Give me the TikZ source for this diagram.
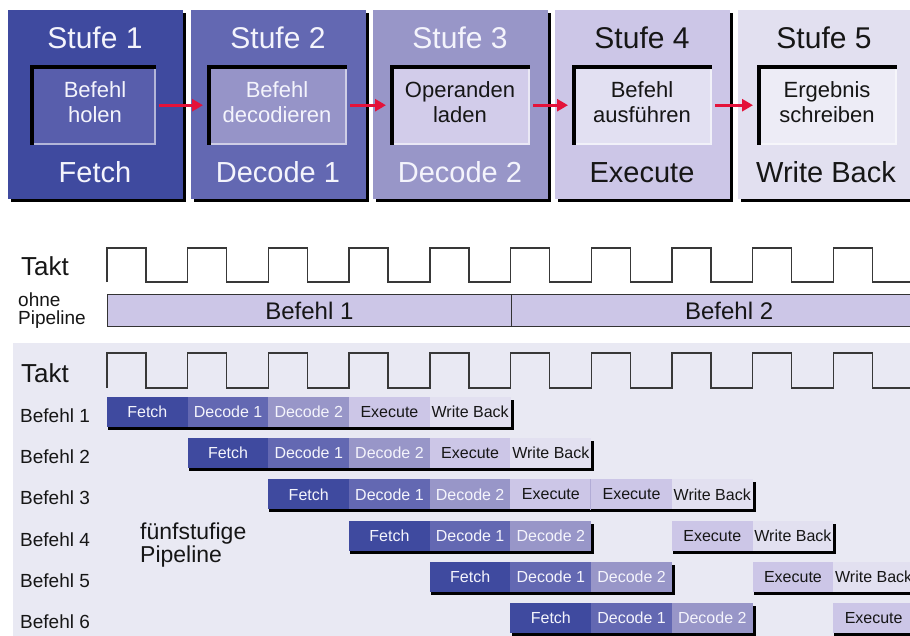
\documentclass[tikz,border=0pt]{standalone}
\usepackage{fontspec}
\setmainfont{Liberation Sans}
\usetikzlibrary{arrows.meta,calc,shadows}

\definecolor{cA}{RGB}{63,74,159}
\definecolor{cAi}{RGB}{88,94,172}
\definecolor{cB}{RGB}{99,104,178}
\definecolor{cBi}{RGB}{150,148,200}
\definecolor{cC}{RGB}{152,150,200}
\definecolor{cCi}{RGB}{210,204,234}
\definecolor{cD}{RGB}{204,198,231}
\definecolor{cDi}{RGB}{226,224,242}
\definecolor{cE}{RGB}{226,224,240}
\definecolor{cEi}{RGB}{237,236,246}
\definecolor{bgpipe}{RGB}{233,233,243}
\definecolor{arrowred}{RGB}{228,18,58}
\definecolor{txtlight}{RGB}{244,244,252}
\definecolor{txtdark}{RGB}{22,22,22}
\definecolor{segline}{RGB}{178,172,214}

\newcommand{\insetframe}[1]{%
  \fill[black] (#1.north west) rectangle ($(#1.north east)+(0,4)$);
  \fill[black] (#1.north west) rectangle ($(#1.south west)+(4,0)$);
  \draw[white,opacity=0.55,line width=2pt] ($(#1.south west)+(4,-1)$) -- ($(#1.south east)+(-1,-1)$) -- ($(#1.north east)+(-1,4)$);
}

\begin{document}
\begin{tikzpicture}[x=1pt,y=-1pt,
  stagebox/.style={rectangle,inner sep=0pt,minimum width=175pt,minimum height=189pt,anchor=north west,
    drop shadow={shadow xshift=2.5pt,shadow yshift=-3pt,opacity=1,fill=black}},
  innerbox/.style={rectangle,inner sep=0pt,minimum height=80pt,anchor=north west},
  stitle/.style={anchor=base,inner sep=0pt,font=\fontsize{30}{34}\selectfont},
  sname/.style={anchor=base,inner sep=0pt,font=\fontsize{29}{33}\selectfont},
  itext/.style={anchor=north,inner sep=0pt,align=center,font=\fontsize{22}{25}\selectfont},
  flow/.style={draw=arrowred,line width=3pt,-{Triangle[length=11pt,width=12pt]},shorten <=3pt,shorten >=4pt},
  clk/.style={draw=black!78,line width=1.4pt},
  lbl/.style={anchor=base west,inner sep=0pt,text=txtdark},
  seg/.style={rectangle,inner sep=0pt,minimum width=80.9pt,minimum height=30pt,font=\fontsize{16}{18}\selectfont},
  sF/.style={fill=cA,text=txtlight},
  sDa/.style={fill=cB,text=txtlight},
  sDb/.style={fill=cC,text=txtlight},
  sEx/.style={fill=cD,text=txtdark},
  sWB/.style={fill=cE,text=txtdark},
  obar/.style={rectangle,draw=black!80,line width=1.3pt,fill=cD,inner sep=0pt,minimum height=32pt,anchor=north west,
    font=\fontsize{24}{28}\selectfont,text=txtdark}
]
\useasboundingbox (0,0) rectangle (910,635);
\clip (0,0) rectangle (910,635);
\fill[white] (0,0) rectangle (910,635);

% ---------- stages ----------
\node[stagebox,fill=cA] (s1) at (8,10) {};
\node[stagebox,fill=cB] (s2) at (191,10) {};
\node[stagebox,fill=cC] (s3) at (373,10) {};
\node[stagebox,fill=cD] (s4) at (555,10) {};
\node[stagebox,fill=cE] (s5) at (738,10) {};

\node[innerbox,fill=cAi,minimum width=126pt] (i1) at (30,65) {};
\node[innerbox,fill=cBi,minimum width=140pt] (i2) at (207,65) {};
\node[innerbox,fill=cCi,minimum width=140pt] (i3) at (390,65) {};
\node[innerbox,fill=cDi,minimum width=140pt] (i4) at (572,65) {};
\node[innerbox,fill=cEi,minimum width=140pt] (i5) at (757,65) {};
\insetframe{i1}
\insetframe{i2}
\insetframe{i3}
\insetframe{i4}
\insetframe{i5}

\node[stitle,text=txtlight] (t1) at (95,48) {Stufe 1};
\node[stitle,text=txtlight] (t2) at (278,48) {Stufe 2};
\node[stitle,text=txtlight] (t3) at (460,48) {Stufe 3};
\node[stitle,text=txtdark] (t4) at (642,48) {Stufe 4};
\node[stitle,text=txtdark] (t5) at (824,48) {Stufe 5};

\node[itext,text=txtlight] (l1) at (95,81) {Befehl\\holen};
\node[itext,text=txtlight] (l2) at (277,81) {Befehl\\decodieren};
\node[itext,text=txtdark] (l3) at (460,81) {Operanden\\laden};
\node[itext,text=txtdark] (l4) at (642,81) {Befehl\\ausführen};
\node[itext,text=txtdark] (l5) at (827,81) {Ergebnis\\schreiben};

\node[sname,text=txtlight] (n1) at (95,182) {Fetch};
\node[sname,text=txtlight] (n2) at (278,182) {Decode 1};
\node[sname,text=txtlight] (n3) at (460,182) {Decode 2};
\node[sname,text=txtdark] (n4) at (642,182) {Execute};
\node[sname,text=txtdark] (n5) at (826,182) {Write Back};

\draw[flow] (i1.east) -- (i2.west);
\draw[flow] (i2.east) -- (i3.west);
\draw[flow] (i3.east) -- (i4.west);
\draw[flow] (i4.east) -- (i5.west);

% ---------- clock without pipeline ----------
\node[lbl,font=\fontsize{26}{30}\selectfont] (takt1) at (21,275) {Takt};
\draw[clk] (107,282) \foreach \k in {0,...,9}{ -- ({107+80.7*\k},282) -- ({107+80.7*\k},248) -- ({146+80.7*\k},248) -- ({146+80.7*\k},282)} -- (912,282);

\node[anchor=north west,inner sep=0pt,align=left,text=txtdark,font=\fontsize{19}{17.5}\selectfont] (ohne) at (18,293) {ohne\\Pipeline};
\node[obar,minimum width=403.5pt] (ob1) at (107,294) {Befehl 1};
\node[obar,minimum width=436pt] (ob2) at (510.5,294) {Befehl 2};

% ---------- pipeline ----------
\fill[bgpipe] (13,343) rectangle (912,637);
\node[lbl,font=\fontsize{26}{30}\selectfont] (takt2) at (21,382) {Takt};
\draw[clk] (107,388) \foreach \k in {0,...,9}{ -- ({107+80.7*\k},388) -- ({107+80.7*\k},353) -- ({146+80.7*\k},353) -- ({146+80.7*\k},388)} -- (912,388);

\foreach \r in {1,...,6}{
  \node[lbl,font=\fontsize{19}{22}\selectfont] (b\r) at (20,{422.5+41.2*(\r-1)}) {Befehl \r};
}
\node[anchor=north west,inner sep=0pt,align=left,text=txtdark,font=\fontsize{23}{23}\selectfont] (fuenf) at (140,523) {fünfstufige\\Pipeline};

\foreach \r/\a/\b in {1/0/5, 2/1/6, 3/2/8, 4/3/6, 4/7/9, 5/4/7, 5/8/11, 6/5/8, 6/9/11}{
  \fill[black] ({108+80.7*\a},{400+41.2*(\r-1)}) rectangle ({110+80.7*\b},{430+41.2*(\r-1)});
}

\foreach \r/\c/\k/\t in {
  1/0/sF/Fetch, 1/1/sDa/Decode 1, 1/2/sDb/Decode 2, 1/3/sEx/Execute, 1/4/sWB/Write Back,
  2/1/sF/Fetch, 2/2/sDa/Decode 1, 2/3/sDb/Decode 2, 2/4/sEx/Execute, 2/5/sWB/Write Back,
  3/2/sF/Fetch, 3/3/sDa/Decode 1, 3/4/sDb/Decode 2, 3/5/sEx/Execute, 3/6/sEx/Execute, 3/7/sWB/Write Back,
  4/3/sF/Fetch, 4/4/sDa/Decode 1, 4/5/sDb/Decode 2, 4/7/sEx/Execute, 4/8/sWB/Write Back,
  5/4/sF/Fetch, 5/5/sDa/Decode 1, 5/6/sDb/Decode 2, 5/8/sEx/Execute, 5/9/sWB/Write Back,
  6/5/sF/Fetch, 6/6/sDa/Decode 1, 6/7/sDb/Decode 2, 6/9/sEx/Execute}{
  \node[seg,\k] (p\r x\c) at ({107+80.7*(\c+0.5)},{412+41.2*(\r-1)}) {\t};
}
\draw[segline,line width=1pt] (p3x6.north west) -- (p3x6.south west);
\end{tikzpicture}
\end{document}
